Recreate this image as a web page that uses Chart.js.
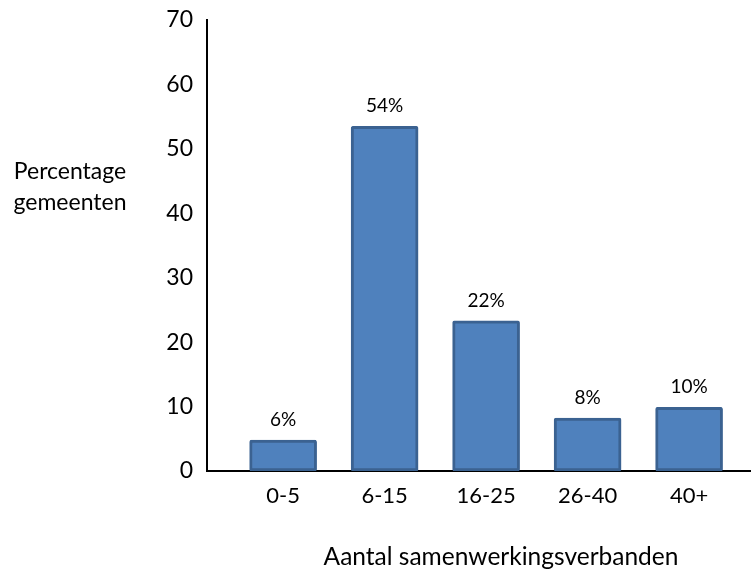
<!DOCTYPE html>
<html>
<head>
<meta charset="utf-8">
<script src="https://cdn.jsdelivr.net/npm/chart.js@4"></script>
<style>
    html, body { margin: 0; padding: 0; background: #fff; }
    #wrap { width: 751px; height: 571px; }
</style>
</head>
<body>
<div id="wrap"><canvas id="chart"></canvas></div>
<script>
const categories = ['0-5', '6-15', '16-25', '26-40', '40+'];
const values = [4.8, 53.5, 23.3, 8.2, 9.9];
const valueLabels = ['6%', '54%', '22%', '8%', '10%'];
const yTicks = [0, 10, 20, 30, 40, 50, 60, 70];
const yTitle = ['Percentage', 'gemeenten'];
const xTitle = 'Aantal samenwerkingsverbanden';

const FONT = 'Lato, "Open Sans", sans-serif';

// labels above bars and the two axis titles
const textPlugin = {
    id: 'texts',
    afterDatasetsDraw(chart) {
        const ctx = chart.ctx;
        const meta = chart.getDatasetMeta(0);
        ctx.save();
        ctx.fillStyle = '#000';
        ctx.textAlign = 'center';
        ctx.textBaseline = 'middle';
        ctx.font = '19px ' + FONT;
        meta.data.forEach((bar, i) => {
            ctx.fillText(valueLabels[i], bar.x, bar.y - 20);
        });
        ctx.font = '23px ' + FONT;
        ctx.fillText(yTitle[0], 70, 172);
        ctx.fillText(yTitle[1], 70, 203);
        ctx.font = '24.5px ' + FONT;
        ctx.fillText(xTitle, 501, 557);
        ctx.restore();
    }
};

new Chart(document.getElementById('chart').getContext('2d'), {
    type: 'bar',
    data: {
        datasets: [{
            data: values.map((v, i) => ({x: i + 1, y: v})),
            backgroundColor: '#4f81bd',
            borderColor: '#3b6291',
            borderWidth: 3,
            borderRadius: 2,
            borderSkipped: false,
            barThickness: 67,
        }]
    },
    options: {
        responsive: true,
        maintainAspectRatio: false,
        animation: false,
        layout: {padding: {top: 20, right: 0, left: 0, bottom: 0}},
        plugins: {legend: {display: false}, tooltip: {enabled: false}},
        scales: {
            x: {
                type: 'linear',
                offset: false,
                min: 0.25,
                max: 5.61,
                grid: {display: false, drawTicks: false, offset: false},
                border: {display: true, color: '#000', width: 2},
                afterFit: (scale) => { scale.height = 100; },
                afterBuildTicks: (scale) => {
                    scale.ticks = categories.map((c, i) => ({value: i + 1}));
                },
                ticks: {
                    padding: 12,
                    color: '#000',
                    font: {family: FONT, size: 22},
                    maxRotation: 0,
                    autoSkip: false,
                    callback: (v) => categories[v - 1] || '',
                },
            },
            y: {
                min: 0,
                max: 70,
                grid: {display: false, drawTicks: false},
                border: {display: true, color: '#000', width: 2},
                afterFit: (scale) => {
                    scale.width = 207;
                    scale.paddingTop = 0;
                    scale.paddingBottom = 0;
                },
                afterBuildTicks: (scale) => {
                    scale.ticks = yTicks.map(v => ({value: v}));
                },
                ticks: {
                    padding: 14,
                    color: '#000',
                    font: {family: FONT, size: 23},
                },
            },
        },
    },
    plugins: [textPlugin],
});
</script>
</body>
</html>
